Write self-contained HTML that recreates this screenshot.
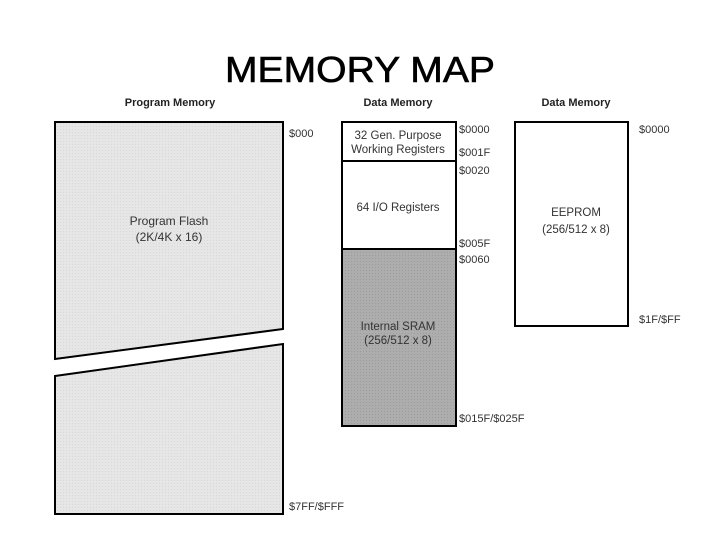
<!DOCTYPE html>
<html><head><meta charset="utf-8"><style>
html,body{margin:0;padding:0;background:#fff}
svg{display:block}
</style></head><body>
<svg width="720" height="540" viewBox="0 0 720 540" xmlns="http://www.w3.org/2000/svg" font-family="Liberation Sans, Arial, sans-serif">
<defs>
<pattern id="lg" width="3" height="3" patternUnits="userSpaceOnUse"><rect width="3" height="3" fill="#e6e6e6"/><rect width="1" height="1" fill="#d8d8d8"/></pattern>
<pattern id="dg" width="3" height="3" patternUnits="userSpaceOnUse"><rect width="3" height="3" fill="#adadad"/><rect width="1" height="1" fill="#9c9c9c"/></pattern>
</defs>
<text x="360" y="82" font-size="36" text-anchor="middle" textLength="270" lengthAdjust="spacingAndGlyphs" fill="#000" stroke="#000" stroke-width="0.6">MEMORY MAP</text>
<g font-size="11" font-weight="bold" fill="#222">
<text x="170" y="106" text-anchor="middle">Program Memory</text>
<text x="398" y="106" text-anchor="middle">Data Memory</text>
<text x="576" y="106" text-anchor="middle">Data Memory</text>
</g>
<polygon points="55,122 283,122 283,329 55,359" fill="url(#lg)" stroke="#000" stroke-width="2"/>
<polygon points="55,376 283,344 283,514 55,514" fill="url(#lg)" stroke="#000" stroke-width="2"/>
<rect x="342" y="122" width="114" height="39" fill="#fff" stroke="#000" stroke-width="2"/>
<rect x="342" y="161" width="114" height="88" fill="#fff" stroke="#000" stroke-width="2"/>
<rect x="342" y="249" width="114" height="177" fill="url(#dg)" stroke="#000" stroke-width="2"/>
<rect x="515" y="122" width="113" height="204" fill="#fff" stroke="#000" stroke-width="2"/>
<g font-size="12" fill="#333" text-anchor="middle">
<text x="169" y="225">Program Flash</text>
<text x="169" y="241">(2K/4K x 16)</text>
</g>
<g font-size="11" fill="#333">
<text x="289" y="137">$000</text>
<text x="289" y="510">$7FF/$FFF</text>
</g>
<g font-size="11.5" fill="#333" text-anchor="middle">
<text x="398" y="139">32 Gen. Purpose</text>
<text x="398" y="153">Working Registers</text>
<text x="398" y="211">64 I/O Registers</text>
<text x="398" y="330">Internal SRAM</text>
<text x="398" y="344">(256/512 x 8)</text>
<text x="576" y="216">EEPROM</text>
<text x="576" y="233">(256/512 x 8)</text>
</g>
<g font-size="11" fill="#333">
<text x="459" y="133">$0000</text>
<text x="459" y="156">$001F</text>
<text x="459" y="174">$0020</text>
<text x="459" y="247">$005F</text>
<text x="459" y="263">$0060</text>
<text x="459" y="422">$015F/$025F</text>
<text x="639" y="133">$0000</text>
<text x="639" y="323">$1F/$FF</text>
</g>
</svg>
</body></html>
